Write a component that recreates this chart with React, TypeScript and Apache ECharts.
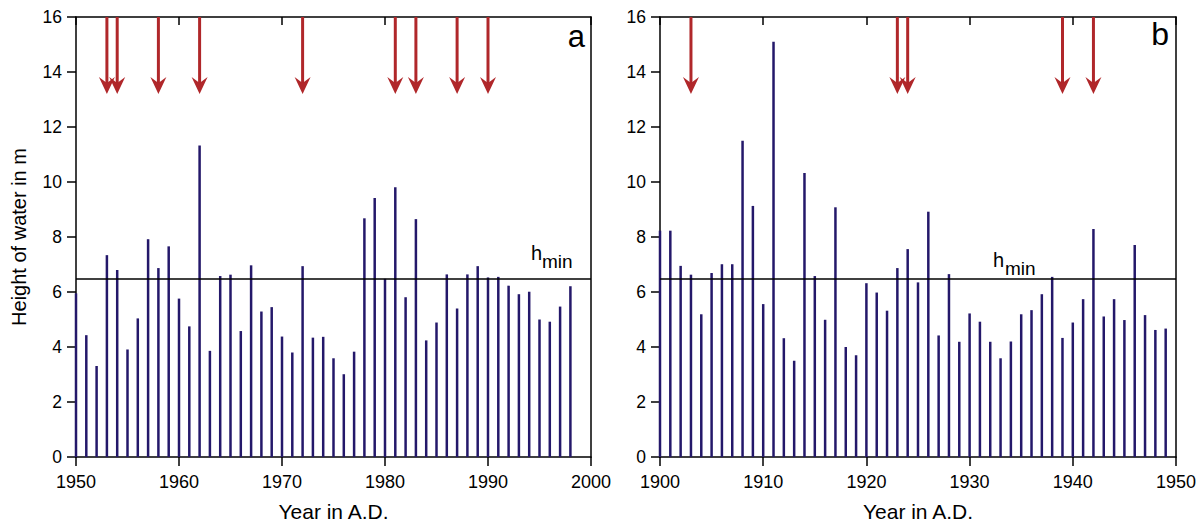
import React, { useEffect, useRef } from "react";
import * as echarts from "echarts";

// Panel a: 1950–1998
const firstYearA = 1950;
const heightsA = [
  5.95, 4.43, 3.31, 7.34, 6.8, 3.91, 5.04, 7.92, 6.87, 7.66,
  5.76, 4.75, 11.33, 3.86, 6.58, 6.63, 4.58, 6.97, 5.29, 5.45,
  4.38, 3.8, 6.94, 4.34, 4.37, 3.59, 3.01, 3.83, 8.68, 9.42,
  6.48, 9.81, 5.81, 8.65, 4.24, 4.89, 6.64, 5.4, 6.64, 6.94,
  6.53, 6.55, 6.23, 5.92, 6.01, 5.0, 4.92, 5.47, 6.21,
];
const arrowYearsA = [1953, 1954, 1958, 1962, 1972, 1981, 1983, 1987, 1990];

// Panel b: 1900–1949
const firstYearB = 1900;
const heightsB = [
  8.23, 8.23, 6.95, 6.63, 5.19, 6.69, 7.01, 7.01, 11.5, 9.13,
  5.56, 15.1, 4.32, 3.5, 10.33, 6.58, 4.99, 9.08, 4.0, 3.7,
  6.32, 5.98, 5.32, 6.87, 7.56, 6.35, 8.92, 4.42, 6.65, 4.19,
  5.22, 4.92, 4.19, 3.59, 4.2, 5.19, 5.34, 5.92, 6.55, 4.33,
  4.89, 5.74, 8.29, 5.11, 5.74, 4.98, 7.71, 5.16, 4.62, 4.67,
];
const arrowYearsB = [1903, 1923, 1924, 1939, 1942];

const hMin = 6.5;
const arrowTop = 16;
const arrowTip = 13.2;
const yTicks = [0, 2, 4, 6, 8, 10, 12, 14, 16];
const xRangeA = [1950, 2000];
const xRangeB = [1900, 1950];

const FONT = "Arial, 'Liberation Sans', Helvetica, sans-serif";
const BAR_COLOR = "#24186a";
const ARROW_COLOR = "#b0272a";

export default function App() {
  const ref = useRef<HTMLDivElement>(null);
  useEffect(() => {
    document.body.style.margin = "0";
    const chart = echarts.init(ref.current!, null, { renderer: "svg" });

    const grids = [
      { left: 76, top: 17, width: 515, height: 440, containLabel: false, outerBoundsMode: "none" },
      { left: 660, top: 17, width: 516, height: 440, containLabel: false, outerBoundsMode: "none" },
    ];
    const ranges = [xRangeA, xRangeB];

    const xAxes: any[] = [];
    const yAxes: any[] = [];
    ranges.forEach((r, i) => {
      xAxes.push({
        type: "value",
        gridIndex: i,
        position: "bottom",
        min: r[0],
        max: r[1],
        interval: 10,
        name: "Year in A.D.",
        nameLocation: "middle",
        nameGap: 44,
        nameTextStyle: { fontFamily: FONT, fontSize: 21, color: "#000" },
        axisLine: { show: true, onZero: false, lineStyle: { color: "#000", width: 1.5 } },
        axisTick: { show: true, inside: false, length: 9, lineStyle: { color: "#000", width: 1.5 } },
        axisLabel: {
          fontFamily: FONT,
          fontSize: 18,
          color: "#000",
          margin: 16,
          formatter: (v: number) => String(v),
        },
        splitLine: { show: false },
      });
      xAxes.push({
        type: "value",
        gridIndex: i,
        position: "top",
        min: r[0],
        max: r[1],
        interval: 10,
        axisLine: { show: true, onZero: false, lineStyle: { color: "#000", width: 1.5 } },
        axisTick: { show: true, inside: true, length: 8, lineStyle: { color: "#000", width: 1.5 } },
        axisLabel: { show: false },
        splitLine: { show: false },
      });
      yAxes.push({
        type: "value",
        gridIndex: i,
        position: "left",
        min: 0,
        max: 16,
        interval: 2,
        name: i === 0 ? "Height of water in m" : "",
        nameLocation: "middle",
        nameGap: 47,
        nameTextStyle: { fontFamily: FONT, fontSize: 20, color: "#000" },
        axisLine: { show: true, onZero: false, lineStyle: { color: "#000", width: 1.5 } },
        axisTick: { show: true, inside: false, length: 9, lineStyle: { color: "#000", width: 1.5 } },
        axisLabel: {
          fontFamily: FONT,
          fontSize: 17.5,
          color: "#000",
          margin: 14,
          formatter: (v: number) => (yTicks.includes(v) ? String(v) : ""),
        },
        splitLine: { show: false },
      });
      yAxes.push({
        type: "value",
        gridIndex: i,
        position: "right",
        min: 0,
        max: 16,
        interval: 2,
        axisLine: { show: true, onZero: false, lineStyle: { color: "#000", width: 1.5 } },
        axisTick: { show: false },
        axisLabel: { show: false },
        splitLine: { show: false },
      });
    });

    const makeBars = (first: number, vals: number[], idx: number) => ({
      type: "bar",
      xAxisIndex: idx * 2,
      yAxisIndex: idx * 2,
      barWidth: 2.5,
      itemStyle: { color: BAR_COLOR },
      data: vals.map((v, k) => [first + k, v]),
      markLine: {
        silent: true,
        symbol: "none",
        label: { show: false },
        lineStyle: { color: "#000", width: 1.5, type: "solid" },
        data: [{ yAxis: hMin }],
      },
      z: 2,
    });

    const makeArrows = (years: number[], idx: number) => ({
      type: "custom",
      xAxisIndex: idx * 2,
      yAxisIndex: idx * 2,
      data: years.map((y) => [y, arrowTip]),
      renderItem: (params: any, api: any) => {
        const x = api.value(0);
        const top = api.coord([x, arrowTop]);
        const tip = api.coord([x, api.value(1)]);
        return {
          type: "group",
          children: [
            {
              type: "line",
              shape: { x1: top[0], y1: top[1], x2: tip[0], y2: tip[1] - 8 },
              style: { stroke: ARROW_COLOR, lineWidth: 3 },
            },
            {
              type: "polygon",
              shape: {
                points: [
                  [tip[0], tip[1]],
                  [tip[0] - 8, tip[1] - 17],
                  [tip[0], tip[1] - 11],
                  [tip[0] + 8, tip[1] - 17],
                ],
              },
              style: { fill: ARROW_COLOR },
            },
          ],
        };
      },
      z: 3,
    });

    const txt = (text: string, x: number, y: number, size: number, align = "left") => ({
      type: "text",
      x,
      y,
      style: {
        text,
        fontFamily: FONT,
        fontSize: size,
        fill: "#000",
        align,
        verticalAlign: "middle",
      },
      z: 10,
    });

    chart.setOption({
      animation: false,
      grid: grids,
      xAxis: xAxes,
      yAxis: yAxes,
      series: [
        makeBars(firstYearA, heightsA, 0),
        makeBars(firstYearB, heightsB, 1),
        makeArrows(arrowYearsA, 0),
        makeArrows(arrowYearsB, 1),
      ],
      graphic: [
        txt("a", 585, 36, 31, "right"),
        txt("b", 1169, 34, 32, "right"),
        txt("h", 531, 253, 20),
        txt("min", 542, 261, 19),
        txt("h", 993, 260, 20),
        txt("min", 1005, 268, 19),
      ],
    });
    return () => chart.dispose();
  }, []);
  return (
    <div
      ref={ref}
      style={{ position: "absolute", left: 0, top: 0, width: 1203, height: 522, background: "#fff" }}
    />
  );
}
